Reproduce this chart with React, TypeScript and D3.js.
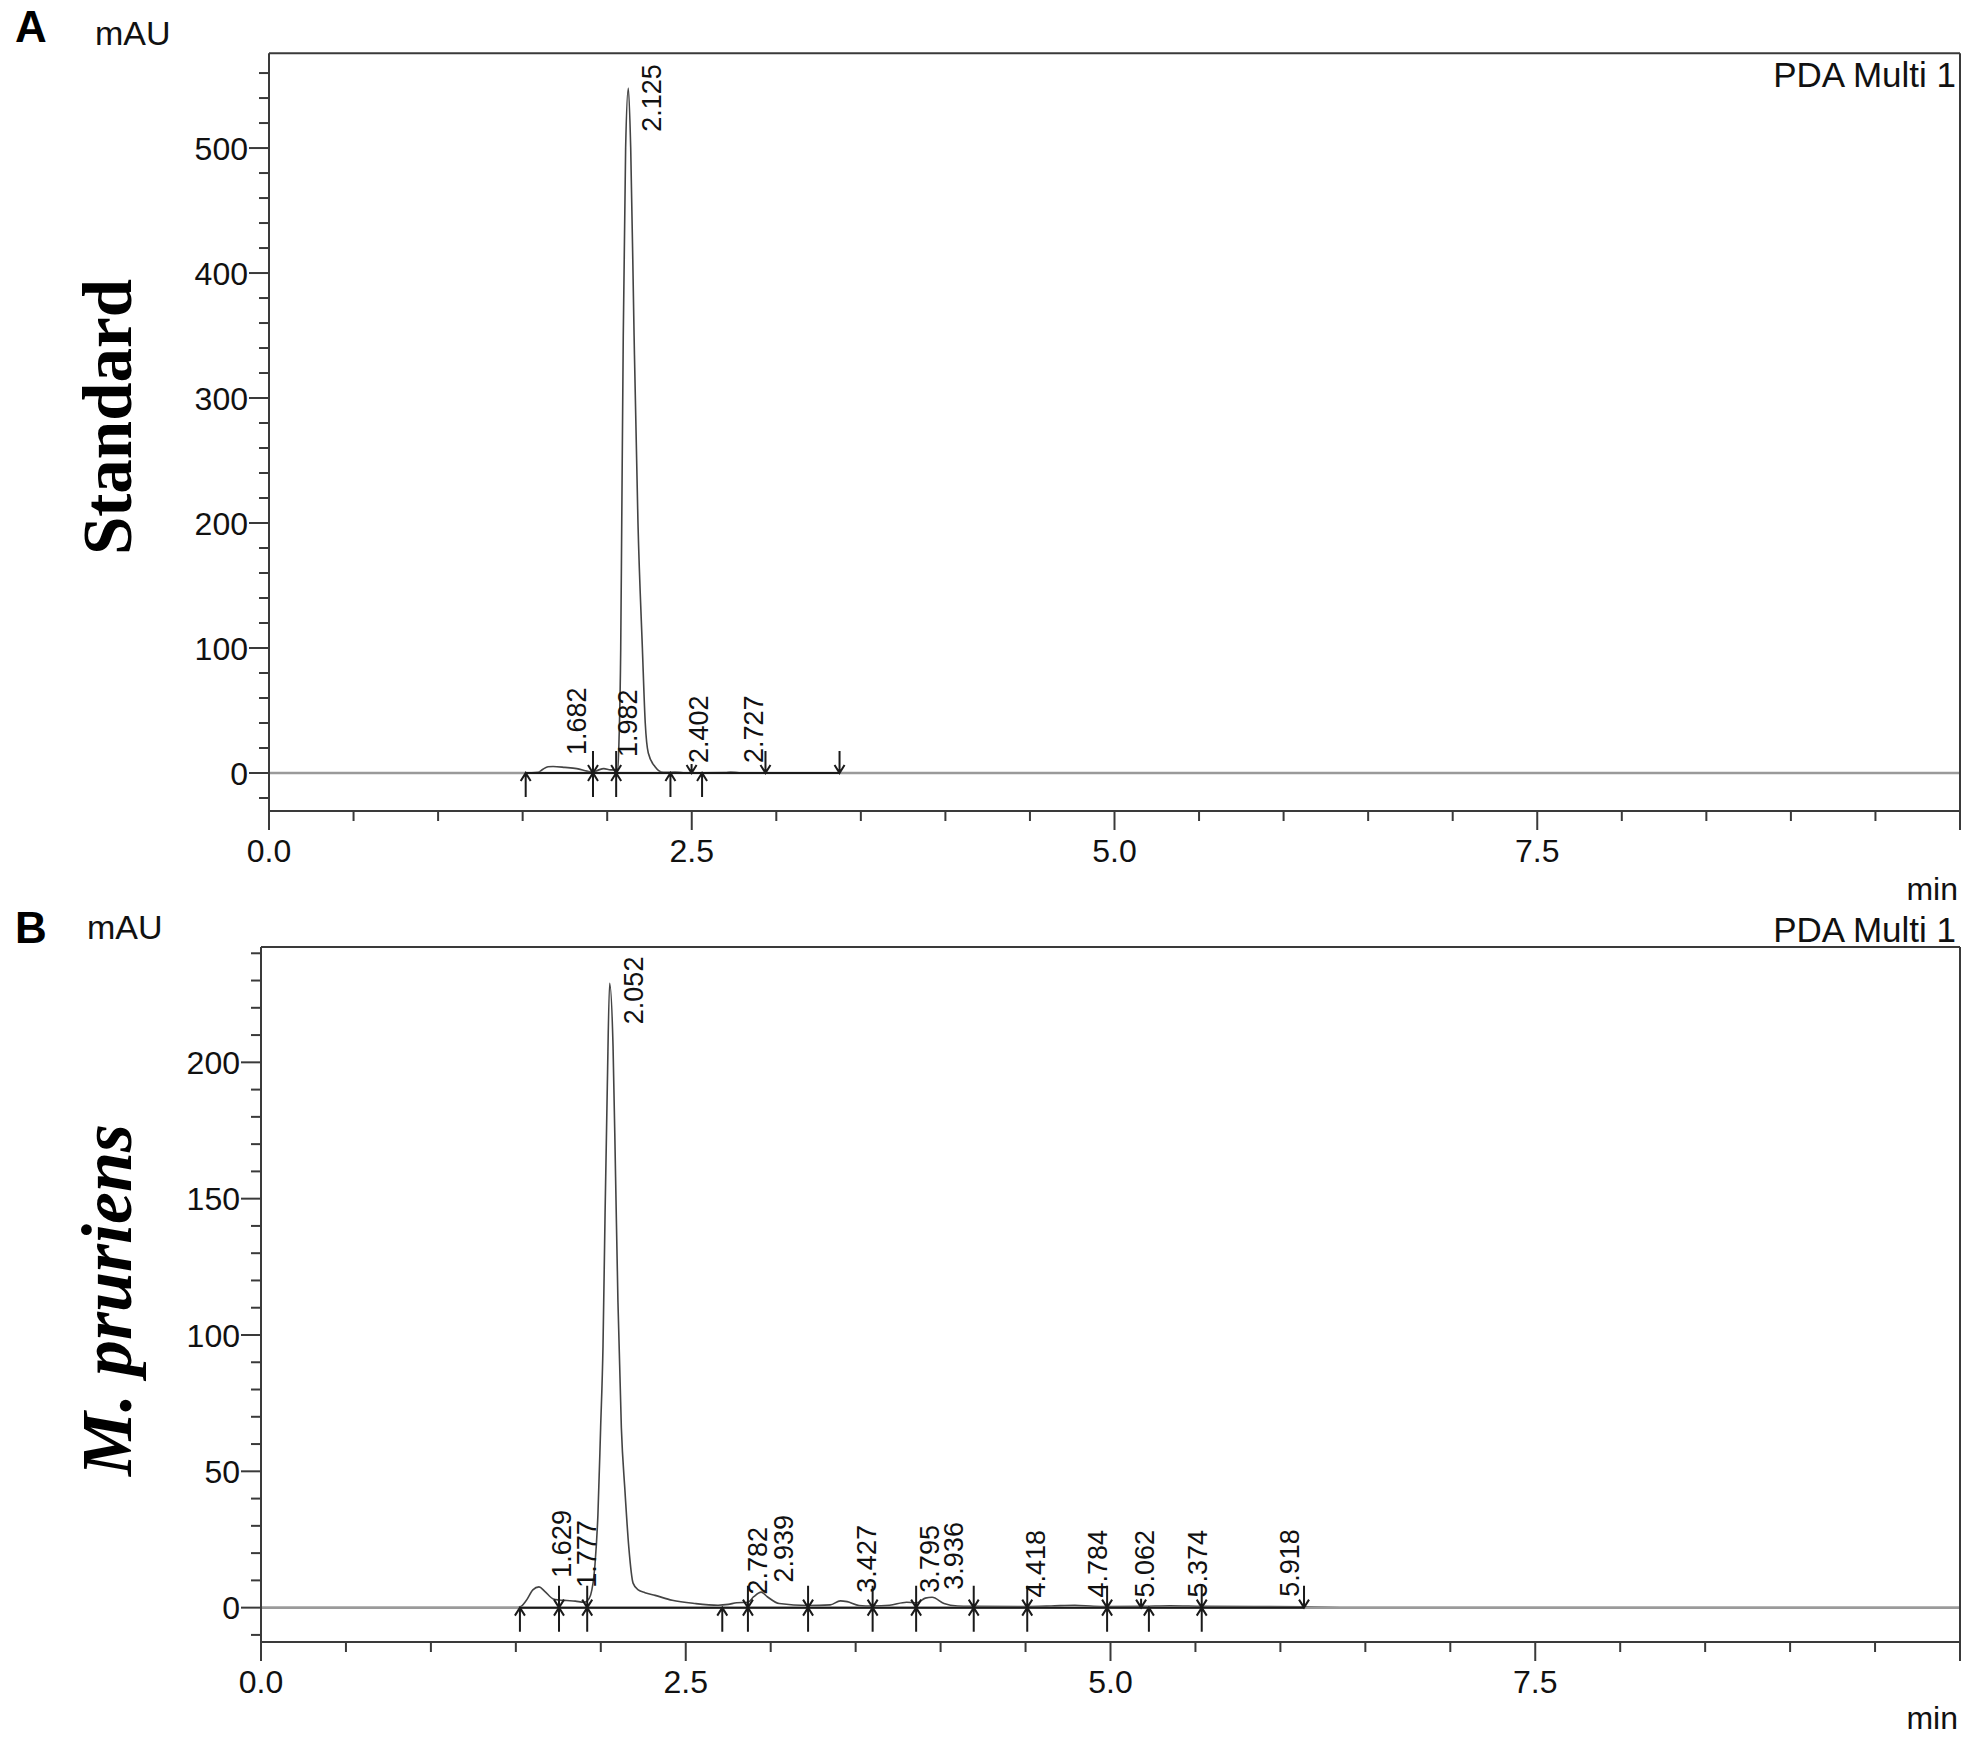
import React from "react";
import * as d3 from "d3";

// ---------- Panel A (Standard) ----------
const timesA = [0, 1.5, 1.518, 1.59, 1.62, 1.65, 1.68, 1.75, 1.82, 1.88, 1.916, 1.95, 1.98, 2.02, 2.05, 2.062, 2.07, 2.08, 2.086, 2.095, 2.109, 2.125, 2.139, 2.159, 2.182, 2.208, 2.225, 2.243, 2.283, 2.332, 2.4, 2.45, 2.7, 2.73, 2.78, 3.0, 10];
const valuesA = [0, 0, 0, 0.5, 3, 5, 5.2, 4.5, 3.5, 1.5, 0.5, 2.5, 3.5, 2.5, 2.5, 3, 27, 100, 200, 350, 500, 548, 500, 350, 200, 100, 40, 16, 5, 0.5, 0.8, 0.2, 0.3, 0.8, 0.2, 0, 0];
const peakTimesA = [1.682, 1.982, 2.125, 2.402, 2.727];
const peakLabelLevelsA = [14.4, 12.8, 513, 8, 8];
const markerTimesA = [1.518, 1.916, 2.053, 2.374, 2.499, 2.561, 2.936, 3.374];
const markerKindsA = ["up", "both", "both", "up", "small", "up", "down", "down"];
const yMajorA = [0, 100, 200, 300, 400, 500];
const yDomainA = [-30.4, 575.8];

// ---------- Panel B (M. pruriens) ----------
const timesB = [0, 1.5, 1.524, 1.56, 1.6, 1.636, 1.67, 1.72, 1.754, 1.8, 1.85, 1.9, 1.92, 1.94, 1.966, 1.983, 1.999, 2.013, 2.025, 2.038, 2.052, 2.072, 2.087, 2.101, 2.121, 2.142, 2.165, 2.19, 2.22, 2.26, 2.32, 2.42, 2.556, 2.69, 2.75, 2.8, 2.866, 2.9, 2.944, 2.98, 3.05, 3.22, 3.35, 3.41, 3.45, 3.52, 3.6, 3.7, 3.8, 3.86, 3.91, 3.95, 4.02, 4.1, 4.195, 4.5, 4.65, 4.79, 4.9, 4.98, 5.2, 5.35, 5.54, 6.14, 6.5, 10];
const valuesB = [0, 0, 0.2, 2.5, 6.5, 7.6, 6, 3.2, 2.8, 2.6, 2.4, 2.0, 2.5, 4.6, 16, 34, 66, 96, 144, 190, 229, 206, 158, 112, 66, 43, 22, 9, 6.5, 5.5, 4.5, 2.7, 1.5, 0.9, 1.2, 1.8, 2, 4, 5.7, 4, 1.5, 0.8, 1.0, 2.5, 2.2, 0.8, 0.6, 0.9, 2.0, 1.8, 3.5, 3.8, 1.5, 0.6, 0.5, 0.4, 0.6, 0.9, 0.5, 0.4, 0.5, 0.7, 0.5, 0.3, 0, 0];
const peakTimesB = [1.629, 1.777, 2.052, 2.782, 2.939, 3.427, 3.795, 3.936, 4.418, 4.784, 5.062, 5.374, 5.918];
const peakLabelLevelsB = [11, 7.3, 214, 4.8, 9.2, 5.5, 5.5, 6.6, 3.7, 3.7, 3.7, 3.7, 4];
const markerTimesB = [1.524, 1.754, 1.92, 2.715, 2.866, 3.22, 3.6, 3.856, 4.195, 4.51, 4.98, 5.18, 5.226, 5.537, 6.139];
const markerKindsB = ["up", "both", "both", "up", "both", "both", "both", "both", "both", "both", "both", "small", "up", "both", "down"];
const yMajorB = [0, 50, 100, 150, 200];
const yDomainB = [-12.6, 242.3];

// ---------- shared axis ----------
const xMajor = [0, 2.5, 5, 7.5, 10];
const xMajorLabels = ["0.0", "2.5", "5.0", "7.5", ""];
const xDomain = [0, 10];

const SANS = "'Liberation Sans', Arial, Helvetica, sans-serif";
const SERIF = "'Liberation Serif', 'Times New Roman', serif";
const AXIS = "#3a3a3a";

function Marker({ x, y0, kind }: { x: number; y0: number; kind: string }) {
  const aw = 5, ah = 8;
  const upHead = `M${x - aw},${y0 + ah}L${x},${y0}L${x + aw},${y0 + ah}`;
  const downHead = `M${x - aw},${y0 - ah}L${x},${y0}L${x + aw},${y0 - ah}`;
  let d = "";
  if (kind === "up") d = `M${x},${y0}L${x},${y0 + 24}` + upHead;
  else if (kind === "down") d = `M${x},${y0 - 22}L${x},${y0}` + downHead;
  else if (kind === "both") d = `M${x},${y0 - 22}L${x},${y0 + 24}` + upHead + downHead;
  else d = `M${x},${y0 - 9}L${x},${y0}` + downHead;
  return <path d={d} fill="none" stroke="#1a1a1a" strokeWidth={2} />;
}

type PanelProps = {
  x: d3.ScaleLinear<number, number>;
  y: d3.ScaleLinear<number, number>;
  times: number[];
  values: number[];
  yMajor: number[];
  yMinorStep: number;
  markerTimes: number[];
  markerKinds: string[];
  peakTimes: number[];
  peakLevels: number[];
  letter: string;
  letterY: number;
  mauX: number;
  mauY: number;
  pdaY: number;
  minY: number;
};

function Panel(p: PanelProps) {
  const { x, y } = p;
  const [x0, x1] = x.range();
  const [yb, yt] = y.range();
  const y0 = y(0);
  const line = d3
    .line<number>()
    .x((_, i) => x(p.times[i]))
    .y((d) => y(d))
    .curve(d3.curveMonotoneX);
  const [dmin, dmax] = y.domain();
  const yMinor = d3
    .range(Math.ceil(dmin / p.yMinorStep) * p.yMinorStep, dmax, p.yMinorStep)
    .filter((v) => !p.yMajor.includes(Math.round(v)));
  const xMinor = d3.range(0, 10.001, 0.5).filter((v) => !xMajor.some((m) => Math.abs(m - v) < 1e-6));
  const fmt = d3.format(".3f");
  const baseStart = x(p.markerTimes[0]);
  const baseEnd = x(p.markerTimes[p.markerTimes.length - 1]);

  return (
    <g>
      <text x={15} y={p.letterY} fontFamily={SANS} fontWeight="bold" fontSize={44} fill="#000">
        {p.letter}
      </text>
      <text x={p.mauX} y={p.mauY} fontFamily={SANS} fontSize={34} fill="#111">
        mAU
      </text>
      <text x={x1 - 4} y={p.pdaY} fontFamily={SANS} fontSize={35} fill="#111" textAnchor="end">
        PDA Multi 1
      </text>

      <path d={line(p.values) || ""} fill="none" stroke="#444" strokeWidth={1.6} />
      <line x1={x0} x2={x1} y1={y0} y2={y0} stroke="#9a9a9a" strokeWidth={2.5} />
      <line x1={baseStart} x2={baseEnd} y1={y0} y2={y0} stroke="#1a1a1a" strokeWidth={2} />
      {p.markerTimes.map((t, i) => (
        <Marker key={i} x={x(t)} y0={y0} kind={p.markerKinds[i]} />
      ))}
      {p.peakTimes.map((t, i) => (
        <text
          key={i}
          transform={`translate(${x(t) + 33},${y(p.peakLevels[i])}) rotate(-90)`}
          fontFamily={SANS}
          fontSize={27}
          fill="#111"
        >
          {fmt(t)}
        </text>
      ))}

      <line x1={x0} x2={x1} y1={yt} y2={yt} stroke={AXIS} strokeWidth={2} />
      <line x1={x1} x2={x1} y1={yt} y2={yb} stroke={AXIS} strokeWidth={2} />
      <line x1={x0} x2={x1} y1={yb} y2={yb} stroke={AXIS} strokeWidth={2} />
      <line x1={x0} x2={x0} y1={yt} y2={yb} stroke={AXIS} strokeWidth={2} />

      {p.yMajor.map((v) => (
        <g key={"ym" + v}>
          <line x1={x0 - 20} x2={x0} y1={y(v)} y2={y(v)} stroke={AXIS} strokeWidth={2} />
          <text x={x0 - 21} y={y(v)} dy="0.36em" textAnchor="end" fontFamily={SANS} fontSize={32} fill="#111">
            {v}
          </text>
        </g>
      ))}
      {yMinor.map((v) => (
        <line key={"yn" + v} x1={x0 - 10} x2={x0} y1={y(v)} y2={y(v)} stroke={AXIS} strokeWidth={2} />
      ))}

      {xMajor.map((v, i) => (
        <g key={"xm" + v}>
          <line x1={x(v)} x2={x(v)} y1={yb} y2={yb + 19} stroke={AXIS} strokeWidth={2} />
          <text x={x(v)} y={yb + 51} textAnchor="middle" fontFamily={SANS} fontSize={32} fill="#111">
            {xMajorLabels[i]}
          </text>
        </g>
      ))}
      {xMinor.map((v) => (
        <line key={"xn" + v} x1={x(v)} x2={x(v)} y1={yb} y2={yb + 10} stroke={AXIS} strokeWidth={2} />
      ))}
      <text x={x1 - 2} y={p.minY} textAnchor="end" fontFamily={SANS} fontSize={32} fill="#111">
        min
      </text>
    </g>
  );
}

export default function App() {
  const xA = d3.scaleLinear().domain(xDomain).range([269, 1960]);
  const yA = d3.scaleLinear().domain(yDomainA).range([811, 53.3]);
  const xB = d3.scaleLinear().domain(xDomain).range([261, 1960]);
  const yB = d3.scaleLinear().domain(yDomainB).range([1642, 947]);

  return (
    <svg
      width={1970}
      height={1737}
      style={{ position: "absolute", left: 0, top: 0, background: "#fff" }}
    >
      <rect x={0} y={0} width={1970} height={1737} fill="#fff" />
      <Panel
        x={xA}
        y={yA}
        times={timesA}
        values={valuesA}
        yMajor={yMajorA}
        yMinorStep={20}
        markerTimes={markerTimesA}
        markerKinds={markerKindsA}
        peakTimes={peakTimesA}
        peakLevels={peakLabelLevelsA}
        letter="A"
        letterY={42}
        mauX={95}
        mauY={45}
        pdaY={87}
        minY={900}
      />
      <Panel
        x={xB}
        y={yB}
        times={timesB}
        values={valuesB}
        yMajor={yMajorB}
        yMinorStep={10}
        markerTimes={markerTimesB}
        markerKinds={markerKindsB}
        peakTimes={peakTimesB}
        peakLevels={peakLabelLevelsB}
        letter="B"
        letterY={943}
        mauX={87}
        mauY={939}
        pdaY={942}
        minY={1729}
      />
      <text
        transform="translate(131,417) rotate(-90)"
        textAnchor="middle"
        fontFamily={SERIF}
        fontWeight="bold"
        fontSize={69}
        fill="#000"
      >
        Standard
      </text>
      <text
        transform="translate(131,1300) rotate(-90)"
        textAnchor="middle"
        fontFamily={SERIF}
        fontWeight="bold"
        fontStyle="italic"
        fontSize={72}
        fill="#000"
      >
        M. pruriens
      </text>
    </svg>
  );
}
